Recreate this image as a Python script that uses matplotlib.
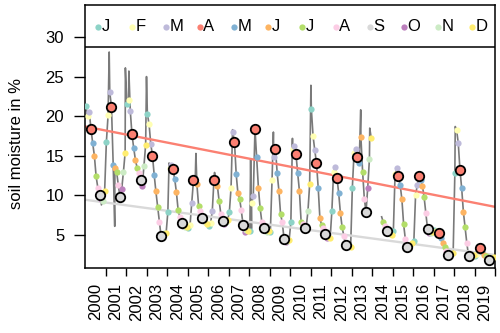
import numpy as np
import matplotlib.pyplot as plt

plt.rcParams['font.family'] = ['Liberation Sans', 'DejaVu Sans']

years = list(range(2000, 2020))
month_letters = ['J', 'F', 'M', 'A', 'M', 'J', 'J', 'A', 'S', 'O', 'N', 'D']
month_cols = ['#8DD3C7', '#FFFFB3', '#BEBADA', '#FB8072', '#80B1D3', '#FDB462',
              '#B3DE69', '#FCCDE5', '#D9D9D9', '#BC80BD', '#CCEBC5', '#FFED6F']
nan = np.nan

# monthly soil moisture (%) per year, Jan..Dec
v2000 = [21.3, 20.0, 20.5, 18.4, 16.6, 15.0, 12.4, 11.0, 10.0, 9.6, 9.3, 10.6]
v2001 = [16.7, 20.1, 23.0, 21.2, 13.9, 13.5, 13.0, 11.3, 9.8, 10.8, 13.0, 15.4]
v2002 = [21.6, 22.0, 20.7, 17.7, 16.0, 14.5, 13.5, 12.8, 11.9, 11.2, 13.7, 16.4]
v2003 = [20.3, 19.0, 16.5, 15.0, 12.6, 10.5, 8.6, 6.7, 4.9, 5.0, 5.2, 5.3]
v2004 = [7.9, 13.5, 13.8, 13.3, 12.1, 10.4, 8.2, 7.3, 6.5, 6.2, 6.0, 6.0]
v2005 = [5.9, 6.3, 9.1, 11.9, 11.7, 11.4, 8.7, 8.0, 7.1, 6.8, 6.7, 6.4]
v2006 = [6.2, 6.5, 8.0, 12.0, 11.8, 11.2, 9.3, 7.7, 6.8, 6.4, 6.6, 6.9]
v2007 = [7.9, 11.0, 18.0, 16.7, 12.7, 10.3, 9.6, 8.1, 6.3, 5.4, 5.6, 5.5]
v2008 = [5.5, 9.0, 9.9, 18.4, 14.8, 11.0, 8.4, 6.7, 5.9, 5.6, 5.4, 5.5]
v2009 = [5.4, 12.0, 14.9, 15.9, 12.8, 10.6, 7.6, 6.6, 4.5, 4.1, 4.3, 4.4]
v2010 = [6.6, 15.8, 16.2, 15.2, 12.8, 10.6, 6.7, 6.4, 5.9, 6.0, 8.0, 11.4]
v2011 = [20.9, 17.5, 15.7, 14.1, 11.0, 7.1, 6.3, 5.9, 5.1, 4.6, 4.8, 4.6]
v2012 = [8.0, 12.9, 13.6, 12.2, 10.3, 7.8, 6.0, 4.9, 3.8, 3.6, 3.7, 3.5]
v2013 = [11.0, 15.4, 15.9, 14.8, 14.1, 17.4, 13.0, 9.6, 7.9, 11.0, 14.6, 17.3]
v2014 = [nan, nan, nan, nan, nan, nan, 6.7, 6.1, 5.5, 5.2, 5.1, 5.0]
v2015 = [5.5, 12.7, 13.4, 12.4, 11.3, 9.5, 6.4, 4.5, 3.5, 3.4, 3.7, 4.0]
v2016 = [4.2, 10.0, 11.3, 12.4, 12.0, 11.2, 9.8, 7.8, 5.8, 5.2, 5.3, 5.4]
v2017 = [5.6, 5.5, 5.3, 5.2, 4.6, 4.0, 3.5, 3.0, 2.5, 2.5, 2.6, 2.7]
v2018 = [12.8, 18.3, 16.6, 13.2, 10.9, 7.9, 6.0, 4.0, 2.4, 2.3, 2.4, 2.5]
v2019 = [2.4, 2.6, 3.0, 3.3, 2.8, 2.5, 2.3, 2.1, 1.8, 1.9, 2.1, 2.2]

# short peaks of the underlying series between the monthly values
spike_t = [2000.80, 2001.18, 2001.45, 2001.97, 2002.14, 2003.00, 2004.10, 2005.41,
           2006.32, 2007.20, 2008.08, 2008.12, 2009.19, 2010.12, 2011.02, 2013.45,
           2013.89, 2014.47, 2018.06]
spike_v = [8.8, 28.1, 6.1, 26.1, 25.7, 25.0, 14.1, 15.3,
           12.9, 18.3, 14.5, 5.8, 18.0, 17.2, 23.9, 20.8,
           18.5, 7.3, 18.7]

vals = np.array([v2000, v2001, v2002, v2003, v2004, v2005, v2006, v2007, v2008, v2009,
                 v2010, v2011, v2012, v2013, v2014, v2015, v2016, v2017, v2018, v2019])
tt = np.array(years)[:, None] + (np.arange(12)[None, :] + 0.5) / 12

fig = plt.figure(figsize=(5, 3.33), dpi=100)
ax = fig.add_axes([0.17, 0.195, 0.82, 0.79])

# grey series line
lt = np.concatenate([tt.ravel(), spike_t])
lv = np.concatenate([vals.ravel(), spike_v])
o = np.argsort(lt)
ax.plot(lt[o], lv[o], color='#7A7A7A', lw=1.2, zorder=1)

# trend lines of April and September values
for m, c in [(3, '#FB8072'), (8, '#D9D9D9')]:
    x = tt[:, m]
    y = vals[:, m]
    ok = ~np.isnan(y)
    k, d = np.polyfit(x[ok], y[ok], 1)
    xx = np.array([2000, 2020])
    ax.plot(xx, k * xx + d, color=c, lw=1.7, zorder=2)

# monthly points
for m in range(12):
    if m in (3, 8):
        ax.plot(tt[:, m], vals[:, m], 'o', ms=6.8, mfc=month_cols[m], mec='black',
                mew=1.3, zorder=4)
    else:
        ax.plot(tt[:, m], vals[:, m], 'o', ms=4.5, mfc=month_cols[m], mec='none', zorder=3)

# legend strip
ax.axhline(28.74, color='black', lw=1.1, zorder=5)
for i in range(12):
    xi = (97.7 + i * 34.0 - 85) / 410
    ax.plot(xi, 0.9175, 'o', ms=4.5, mfc=month_cols[i], mec='none', transform=ax.transAxes,
            clip_on=False)
    ax.text(xi + 0.009, 0.9175, month_letters[i], transform=ax.transAxes, fontsize=12,
            ha='left', va='center')

ax.set_xlim(2000, 2020)
ax.set_ylim(0.83, 34.04)
ax.set_yticks([5, 10, 15, 20, 25, 30])
ax.set_xticks(np.arange(2001, 2021))
ax.set_xticklabels([])
ax.set_xticks(np.array(years) + 0.5, minor=True)
ax.set_xticklabels([str(y) for y in years], minor=True, rotation=90, fontsize=12)
ax.tick_params(axis='x', which='major', length=6, width=1)
ax.tick_params(axis='x', which='minor', length=0, pad=11)
ax.tick_params(axis='y', length=8, width=1, pad=7, labelsize=12)
for s in ax.spines.values():
    s.set_linewidth(1.1)
fig.text(0.034, 0.57, 'soil moisture in %', rotation=90, ha='center', va='center',
         fontsize=12)

fig.savefig('out.png', dpi=100)
